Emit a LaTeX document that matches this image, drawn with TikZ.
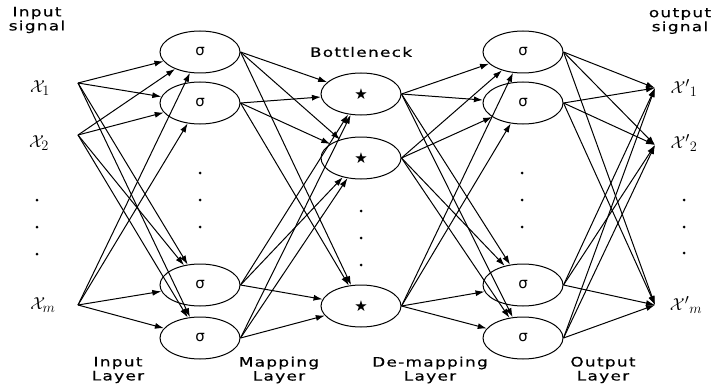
\documentclass[tikz,border=0pt]{standalone}
\usepackage{fontspec}
\usetikzlibrary{shapes.geometric,arrows.meta}
\newfontfamily\labfont[FakeStretch=1.3,LetterSpace=10,FakeBold=0.5]{DejaVu Sans}
\newfontfamily\symfont{DejaVu Sans}

\begin{document}
\begin{tikzpicture}[x=1pt,y=-1pt,
  neuron/.style={draw,ellipse,minimum width=80pt,minimum height=42pt,inner sep=0pt,
    line width=1pt,font=\symfont\fontsize{15}{15}\selectfont},
  conn/.style={line width=1pt,-{Latex[length=9pt,width=6pt]}},
  caption/.style={font=\labfont\fontsize{13}{14}\selectfont,align=center,inner sep=0pt},
  dotm/.style={circle,fill,inner sep=0pt,minimum size=3pt},
  sig/.style={font=\fontsize{19}{19}\selectfont,inner sep=0pt},
  starmark/.style={font=\symfont\fontsize{15}{15}\selectfont}
]
\useasboundingbox (0,0) rectangle (711,385);

% signal labels
\node[sig] (lx1) at (40,88) {$\mathcal{X}_1$};
\node[sig] (lx2) at (39,143) {$\mathcal{X}_2$};
\node[sig] (lxm) at (43,305) {$\mathcal{X}_m$};
\node[sig] (ly1) at (684,88) {$\mathcal{X}'{}_1$};
\node[sig] (ly2) at (684,143) {$\mathcal{X}'{}_2$};
\node[sig] (lym) at (686,305) {$\mathcal{X}'{}_m$};

% fan-out / fan-in points
\coordinate (in1) at (78,83);
\coordinate (in2) at (78,135);
\coordinate (inm) at (78,305);
\coordinate (o1) at (655,88);
\coordinate (o2) at (655,145);
\coordinate (om) at (655,305);

% mapping layer
\node[neuron] (m1) at (200,52) {σ};
\node[neuron] (m2) at (200,103) {σ};
\node[neuron] (m3) at (200,285) {σ};
\node[neuron] (m4) at (200,338) {σ};

% bottleneck layer
\node[neuron,starmark] (b1) at (361,94) {★};
\node[neuron,starmark] (b2) at (361,158) {★};
\node[neuron,starmark] (b3) at (361,306) {★};

% de-mapping layer
\node[neuron] (d1) at (523,52) {σ};
\node[neuron] (d2) at (523,103) {σ};
\node[neuron] (d3) at (523,285) {σ};
\node[neuron] (d4) at (523,338) {σ};

% ellipsis dots
\foreach \n/\x/\y in {pi1/37/200,pi2/37/227,pi3/37/254,
                      pm1/200/173,pm2/200/200,pm3/200/227,
                      pb1/361/211,pb2/361/238,pb3/361/265,
                      pd1/522/173,pd2/522/200,pd3/522/227,
                      po1/684/200,po2/684/227,po3/684/253}
  \node[dotm] (\n) at (\x,\y) {};

% connections
\foreach \s in {in1,in2,inm}
  \foreach \t in {m1,m2,m3,m4}
    \draw[conn] (\s) -- (\t);
\foreach \s in {m1,m2,m3,m4}
  \foreach \t in {b1,b2,b3}
    \draw[conn] (\s.east) -- (\t);
\foreach \s in {b1,b2,b3}
  \foreach \t in {d1,d2,d3,d4}
    \draw[conn] (\s.east) -- (\t);
\foreach \s in {d1,d2,d3,d4}
  \foreach \t in {o1,o2,om}
    \draw[conn] (\s.east) -- (\t);

% captions
\node[caption] (tin) at (37,20) {Input\\signal};
\node[caption] (tout) at (680,21) {output\\signal};
\node[caption] (tbn) at (361,52) {Bottleneck};
\node[caption] (lin) at (118,370) {Input\\Layer};
\node[caption] (lmap) at (279,370) {Mapping\\Layer};
\node[caption] (ldem) at (430,370) {De-mapping\\Layer};
\node[caption] (lout) at (603,370) {Output\\Layer};
\end{tikzpicture}
\end{document}
